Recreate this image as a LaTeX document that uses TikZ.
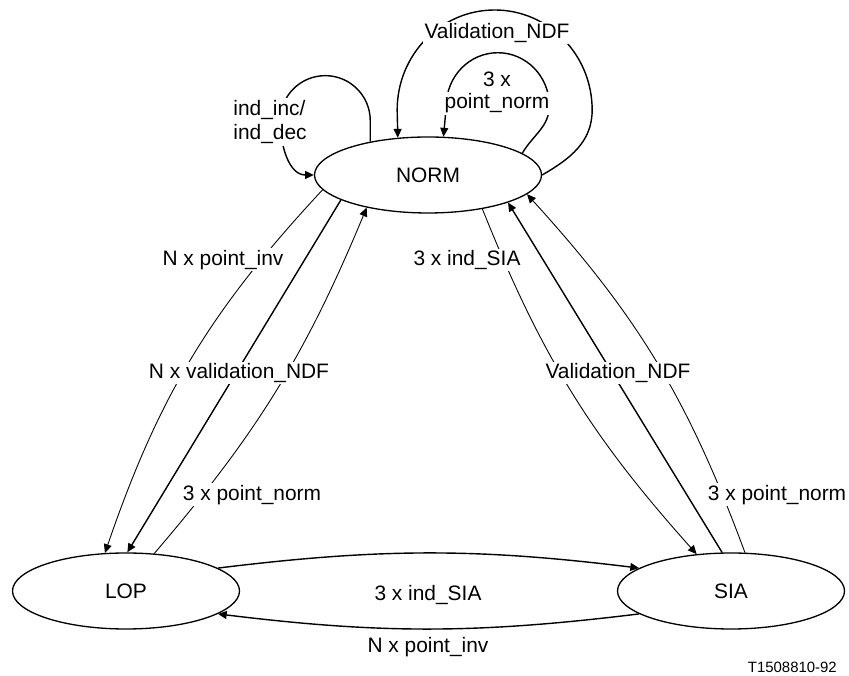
\documentclass[tikz,border=0pt]{standalone}
\usepackage{fontspec}
\setmainfont{Liberation Sans}
\usetikzlibrary{arrows.meta,shapes.geometric}

\begin{document}
\begin{tikzpicture}[
    every node/.style={font=\fontsize{11.9}{14}\selectfont},
    state/.style={draw,ellipse,line width=0.75pt,minimum width=4.54cm,
                  minimum height=1.52cm,inner sep=0pt},
    lbl/.style={fill=white,inner sep=1pt,align=center},
    arr/.style={-{Triangle[length=5pt,width=4.5pt]},line width=0.8pt},
    thinarr/.style={arr,line width=0.5pt},
  ]
  \useasboundingbox (0,0) rectangle (16.98,13.52);

  \node[state] (norm) at (8.56,10.02) {NORM};
  \node[state] (lop) at (2.52,1.70) {LOP};
  \node[state] (sia) at (14.62,1.70) {SIA};

  % loops on NORM
  \draw[arr] (norm.150) -- ++(0,0.42)
    arc[start angle=0,end angle=180,radius=0.9] to[out=-90,in=180] (norm.west);
  \draw[arr] (norm.east) to[out=30,in=-90] ++(1.0,1.3)
    arc[start angle=0,end angle=180,x radius=1.95,y radius=2.0] -- (norm.129);
  \draw[arr] (norm.13) to[out=60,in=-90] ++(0.54,0.95)
    arc[start angle=0,end angle=180,x radius=1.03,y radius=1.06] -- (norm.68);

  % NORM and LOP
  \draw[thinarr] (norm.188) to[bend right=12] (lop.119);
  \draw[arr] (norm.196) -- (lop.88);
  \draw[thinarr] (lop.53) to[bend right=9] (norm.208);

  % NORM and SIA
  \draw[thinarr] (norm.328) to[bend right=10] (sia.133);
  \draw[arr] (sia.103) -- (norm.341);
  \draw[thinarr] (sia.70) to[bend right=11] (norm.349);

  % LOP and SIA
  \draw[arr] (lop.14) to[bend left=7] (sia.166);
  \draw[arr] (sia.194) to[bend left=7] (lop.346);

  % labels
  \node[lbl,align=left] (incdec) at (5.40,11.08) {ind\_inc/\\ind\_dec};
  \node[lbl] (valtop) at (9.94,12.86) {Validation\_NDF};
  \node[lbl,anchor=base] (normtop) at (9.94,11.78) {3 x};
  \node[lbl,anchor=base] (normtopb) at (9.94,11.34) {point\_norm};
  \node[lbl] (invleft) at (4.46,8.32) {N x point\_inv};
  \node[lbl] (valleft) at (4.78,6.06) {N x validation\_NDF};
  \node[lbl] (normleft) at (5.04,3.62) {3 x point\_norm};
  \node[lbl] (siaright) at (9.34,8.32) {3 x ind\_SIA};
  \node[lbl] (valright) at (12.36,6.06) {Validation\_NDF};
  \node[lbl] (normright) at (15.54,3.62) {3 x point\_norm};
  \node (siabottom) at (8.56,1.62) {3 x ind\_SIA};
  \node (invbottom) at (8.56,0.58) {N x point\_inv};
  \node[font=\fontsize{8.5}{10}\selectfont,anchor=east] (fig) at (16.86,0.18) {T1508810-92};
\end{tikzpicture}
\end{document}
